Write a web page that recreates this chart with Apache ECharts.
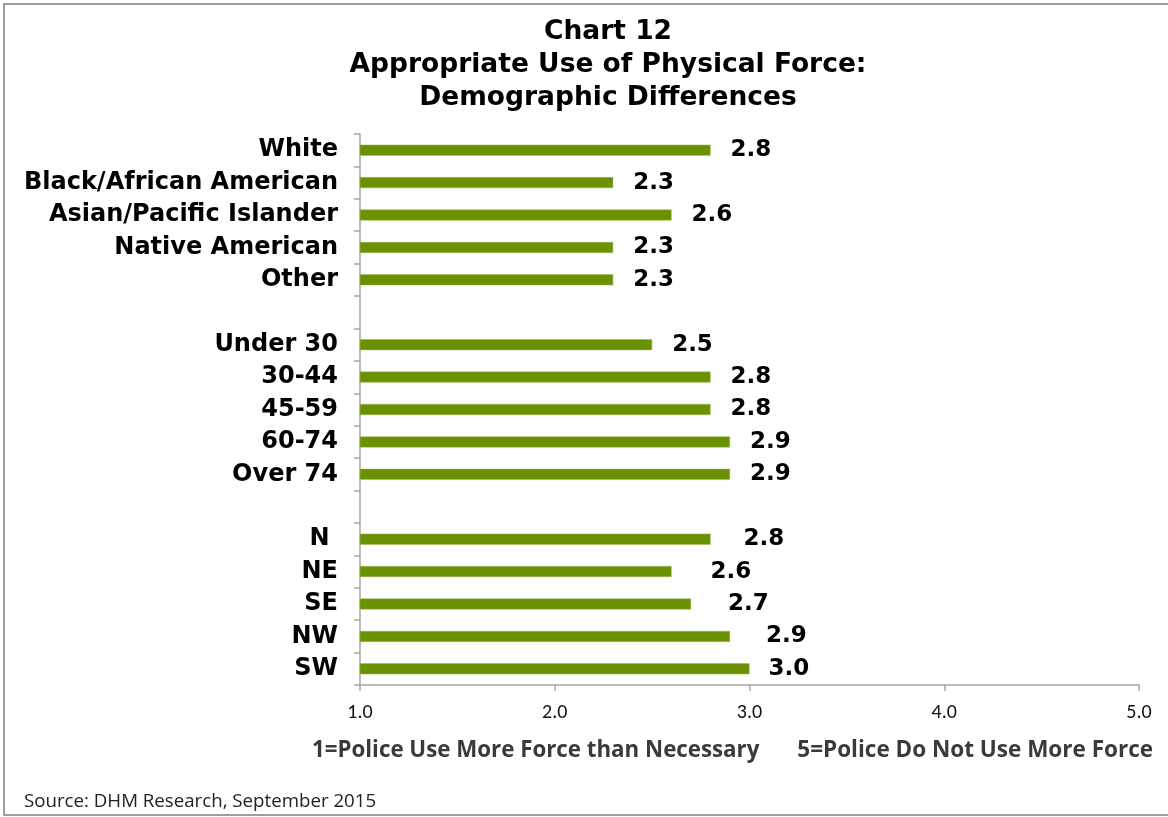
<!DOCTYPE html>
<html>
<head>
<meta charset="utf-8">
<script src="https://cdn.jsdelivr.net/npm/echarts@6/dist/echarts.min.js"></script>
<style>
  html, body { margin: 0; padding: 0; background: #fff; }
  #chart { width: 1168px; height: 817px; }
</style>
</head>
<body>
<div id="chart"></div>
<script>
// Mean ratings by demographic group (blank rows separate the groups)
const categories = [
  'White', 'Black/African American', 'Asian/Pacific Islander', 'Native American', 'Other',
  '',
  'Under 30', '30-44', '45-59', '60-74', 'Over 74',
  ' ',
  'N ', 'NE', 'SE', 'NW', 'SW'
];
const values = [
  2.8, 2.3, 2.6, 2.3, 2.3,
  null,
  2.5, 2.8, 2.8, 2.9, 2.9,
  null,
  2.8, 2.6, 2.7, 2.9, 3.0
];
// gap between bar end and its value label
const labelGaps = [
  20, 20, 20, 20, 20,
  20,
  20, 20, 20, 20, 20,
  20,
  33, 39, 37, 36, 19
];
const xTicks = ['1.0', '2.0', '3.0', '4.0', '5.0'];

const chart = echarts.init(document.getElementById('chart'), null, { renderer: 'canvas' });

const seriesData = values.map((v, i) => ({
  value: v,
  label: { distance: labelGaps[i] }
}));

const verdanaLike = "'DejaVu Sans', sans-serif";
const calibriLike = "Carlito, 'Liberation Sans', sans-serif";

chart.setOption({
  animation: false,
  backgroundColor: '#fff',
  title: {
    text: 'Chart 12\nAppropriate Use of Physical Force:\nDemographic Differences',
    left: 603,
    top: 11,
    textAlign: 'center',
    textStyle: {
      fontFamily: verdanaLike,
      fontWeight: 'bold',
      fontSize: 26.5,
      lineHeight: 33,
      color: '#000'
    }
  },
  grid: { left: 360, right: 29, top: 134, bottom: 132, containLabel: false },
  xAxis: {
    type: 'value',
    min: 1,
    max: 5,
    interval: 1,
    splitLine: { show: false },
    axisLine: { show: true, lineStyle: { color: '#a6a6a6', width: 1.5 } },
    axisTick: { show: true, length: 6, lineStyle: { color: '#a6a6a6', width: 1.5 } },
    axisLabel: {
      margin: 18,
      fontFamily: calibriLike,
      fontSize: 20,
      color: '#111',
      formatter: (v) => xTicks[Math.round(v) - 1]
    }
  },
  yAxis: {
    type: 'category',
    data: categories,
    inverse: true,
    axisLine: { show: true, lineStyle: { color: '#a6a6a6', width: 1.5 } },
    axisTick: { show: true, length: 6, lineStyle: { color: '#a6a6a6', width: 1.5 } },
    axisLabel: {
      margin: 22,
      fontFamily: verdanaLike,
      fontWeight: 'bold',
      fontSize: 24,
      color: '#000'
    }
  },
  series: [{
    type: 'bar',
    data: seriesData,
    barWidth: 11,
    itemStyle: { color: '#6a9200', borderColor: '#9bbb59', borderWidth: 0.5 },
    label: {
      show: true,
      position: 'right',
      fontFamily: verdanaLike,
      fontWeight: 'bold',
      fontSize: 23,
      color: '#000',
      formatter: (p) => p.value == null ? '' : p.value.toFixed(1)
    }
  }],
  graphic: [
    {
      type: 'rect',
      shape: { x: 4, y: 4, width: 1200, height: 811 },
      style: { fill: 'none', stroke: '#7f7f7f', lineWidth: 1.5 },
      silent: true
    },
    {
      type: 'text',
      x: 312,
      y: 751,
      style: {
        text: '1=Police Use More Force than Necessary',
        font: "bold 22.3px 'Open Sans', sans-serif",
        fill: '#3a3a3a',
        verticalAlign: 'middle'
      }
    },
    {
      type: 'text',
      x: 1153,
      y: 751,
      style: {
        text: '5=Police Do Not Use More Force',
        font: "bold 22.5px 'Open Sans', sans-serif",
        fill: '#3a3a3a',
        align: 'right',
        verticalAlign: 'middle'
      }
    },
    {
      type: 'text',
      x: 24,
      y: 802,
      style: {
        text: 'Source: DHM Research, September 2015',
        font: "18.7px 'Open Sans', sans-serif",
        fill: '#222',
        verticalAlign: 'middle'
      }
    }
  ]
});
</script>
</body>
</html>
